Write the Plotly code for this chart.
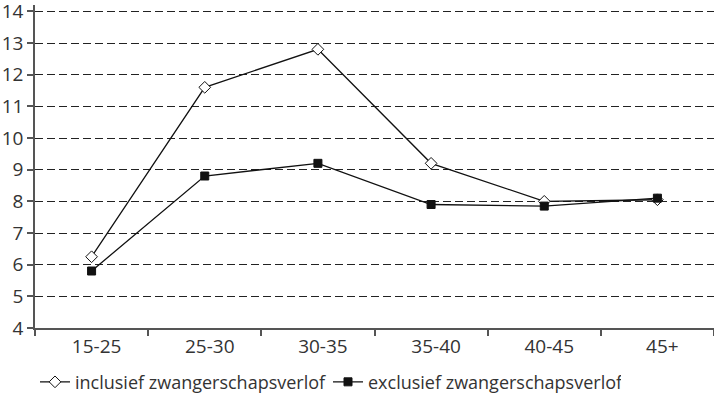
import plotly.graph_objects as go

categories = ["15-25", "25-30", "30-35", "35-40", "40-45", "45+"]
inclusief = [6.25, 11.6, 12.8, 9.2, 8.0, 8.05]
exclusief = [5.8, 8.8, 9.2, 7.9, 7.85, 8.1]
y_ticks = list(range(4, 15))

FONT = "Open Sans"
TXT = "#333333"

fig = go.Figure()
fig.add_trace(go.Scatter(
    x=categories, y=inclusief, mode="lines+markers",
    name="inclusief zwangerschapsverlof",
    line=dict(color="#111111", width=1.3),
    marker=dict(symbol="diamond", size=9, color="white", line=dict(color="#111111", width=1)),
))
fig.add_trace(go.Scatter(
    x=categories, y=exclusief, mode="lines+markers",
    name="exclusief zwangerschapsverlof",
    line=dict(color="#111111", width=1.3),
    marker=dict(symbol="square", size=8, color="#111111", line=dict(color="#111111", width=1)),
))

fig.update_layout(
    width=714, height=396,
    margin=dict(l=35, r=0, t=5, b=68, autoexpand=False),
    paper_bgcolor="white", plot_bgcolor="white",
    font=dict(family=FONT, size=18, color=TXT),
    showlegend=True,
    legend=dict(orientation="h", x=0.0, xanchor="left",
                yref="container", y=0.035, yanchor="middle",
                font=dict(size=18, color=TXT), bgcolor="rgba(0,0,0,0)",
                entrywidth=248, entrywidthmode="pixels", itemwidth=30),
)
fig.update_xaxes(
    type="category", range=[-0.5, 5.5], showgrid=False,
    showline=True, linecolor="#555555", linewidth=1.5,
    ticks="outside", tickson="boundaries", ticklen=6, tickcolor="#555555", tickwidth=1.5,
    tickfont=dict(size=19, color=TXT), zeroline=False, ticklabelshift=5,
)
fig.update_yaxes(
    range=[4, 14.2], tickvals=y_ticks, showgrid=True,
    gridcolor="#222222", griddash="8px,4px", gridwidth=1.1,
    showline=True, linecolor="#555555", linewidth=1.5,
    ticks="outside", ticklen=6, tickcolor="#555555", tickwidth=1.5,
    tickfont=dict(size=19, color=TXT), zeroline=False, ticklabeloverflow="allow",
)

fig.write_html("out.html")
